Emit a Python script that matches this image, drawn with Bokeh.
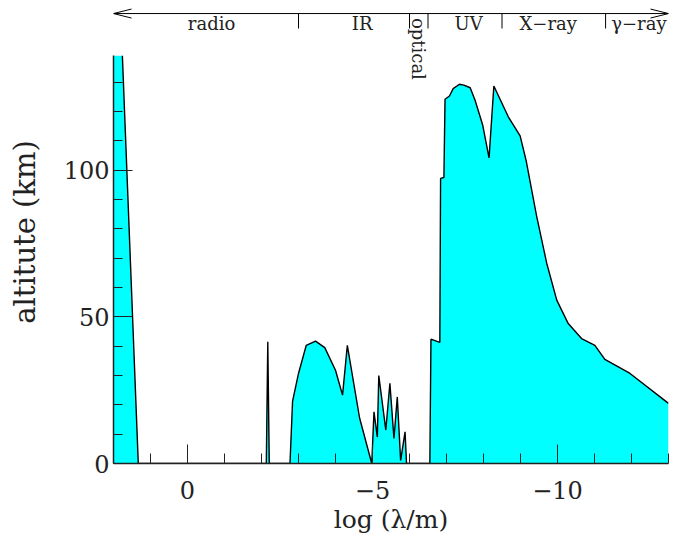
import math
from bokeh.plotting import figure
from bokeh.models import Range1d, FixedTicker
from bokeh.core.properties import value
from bokeh.embed import file_html
from bokeh.resources import INLINE

# ---- data ----
log_wavelength = [2.0, 1.76, 1.33, -2.13, -2.17, -2.21, -2.77, -2.84, -3.0, -3.21,
                  -3.46, -3.71, -4.0, -4.19, -4.32, -4.65, -4.98, -5.04, -5.13, -5.17,
                  -5.36, -5.47, -5.58, -5.67, -5.76, -5.88, -5.92, -6.55, -6.58, -6.82,
                  -6.84, -6.93, -6.96, -7.08, -7.18, -7.35, -7.47, -7.64, -7.77, -7.98,
                  -8.15, -8.28, -8.67, -8.99, -9.15, -9.44, -9.71, -9.98, -10.29, -10.65,
                  -11.01, -11.28, -11.96, -13.0]
altitude_km = [139, 139, 0, 0, 41.5, 0, 0, 21.3, 30.7, 40.3,
               41.7, 39.5, 31.8, 23.3, 40.3, 15.6, 0, 17.6, 9.0, 30.0,
               11.4, 27.3, 8.5, 22.7, 1.0, 10.8, 0, 0, 42.4, 41.3,
               97.2, 97.5, 124.2, 125.3, 127.8, 129.3, 129.0, 128.1, 123.9, 115.3,
               104.2, 128.7, 118.2, 111.7, 103.4, 84.1, 68.2, 55.7, 47.7, 42.6,
               40.3, 35.5, 30.7, 20.5]

band_names = ["radio", "IR", "optical", "UV", "X\u2212ray", "\u03b3\u2212ray"]
band_edges = [-3.0, -6.0, -6.5, -8.5, -11.3]
band_centers = [-0.65, -4.72, -6.25, -7.6, -9.75, -12.2]

x_major = [0, -5, -10]
x_labels = ["0", "\u22125", "\u221210"]
y_major = [0, 50, 100]

X_LO, X_HI = 2.0, -13.0
Y_DATA_TOP = 139.0
Y_VIEW_TOP = 157.85

FONT = "DejaVu Serif"

p = figure(width=673, height=539,
           x_range=Range1d(X_LO, X_HI), y_range=Range1d(0, Y_VIEW_TOP),
           output_backend="svg", toolbar_location=None,
           min_border_left=113, min_border_right=5,
           min_border_top=0, min_border_bottom=76)
p.outline_line_color = None
p.grid.visible = False

# filled region + outline
p.varea(x=log_wavelength, y1=[0] * len(altitude_km), y2=altitude_km,
        fill_color="#00ffff")
p.line(x=log_wavelength[1:], y=altitude_km[1:], line_color="black", line_width=1.4)

# ---- top band annotation ----
arrow_y = 153.4
tick_y = 148.3
label_y = 150.0
px_x = (X_LO - X_HI) / 555.0   # data units per pixel (x)
px_y = Y_VIEW_TOP / 463.0      # data units per pixel (y)
head_l = 18 * px_x
head_w = 4.5 * px_y

p.line(x=[X_LO, X_HI], y=[arrow_y, arrow_y], line_color="black", line_width=1)
p.multi_line(xs=[[X_LO - head_l, X_LO, X_LO - head_l],
                 [X_HI + head_l, X_HI, X_HI + head_l]],
             ys=[[arrow_y + head_w, arrow_y, arrow_y - head_w]] * 2,
             line_color="black", line_width=1)
p.segment(x0=band_edges, y0=[tick_y] * len(band_edges),
          x1=band_edges, y1=[arrow_y] * len(band_edges),
          line_color="black", line_width=1)

horiz = [i for i, n in enumerate(band_names) if n != "optical"]
p.text(x=[band_centers[i] for i in horiz], y=[label_y] * len(horiz),
       text=[band_names[i] for i in horiz],
       text_font=value(FONT), text_font_size="18px", text_color="#222222",
       text_align="center", text_baseline="middle")
opt = band_names.index("optical")
p.text(x=[band_centers[opt]], y=[151.9], text=["optical"],
       angle=-math.pi / 2,
       text_font=value(FONT), text_font_size="18px", text_color="#222222",
       text_align="left", text_baseline="middle")

# ---- axes ----
p.xaxis.ticker = FixedTicker(ticks=x_major, minor_ticks=list(range(-13, 3)))
p.xaxis.major_label_overrides = dict(zip(x_major, x_labels))
p.yaxis.ticker = FixedTicker(ticks=y_major, minor_ticks=list(range(0, 140, 10)))
p.yaxis.bounds = (0, Y_DATA_TOP)

for ax in (p.xaxis[0], p.yaxis[0]):
    ax.major_tick_in = 19
    ax.major_tick_out = 0
    ax.minor_tick_in = 10
    ax.minor_tick_out = 0
    ax.axis_line_width = 1.5
    ax.axis_line_color = "#222222"
    ax.major_tick_line_color = "#222222"
    ax.minor_tick_line_color = "#222222"
    ax.major_label_text_font = FONT
    ax.major_label_text_font_size = "24px"
    ax.major_label_text_color = "#222222"
    ax.axis_label_text_font = FONT
    ax.axis_label_text_font_size = "25px"
    ax.axis_label_text_font_style = "normal"
    ax.axis_label_text_color = "#222222"

p.yaxis.minor_tick_in = 9
p.yaxis.axis_label_text_font_size = "29px"
p.xaxis.axis_label = "log (\u03bb/m)"
p.yaxis.axis_label = "altitute (km)"
p.xaxis.major_label_standoff = 17
p.xaxis.axis_label_standoff = 3
p.yaxis.major_label_standoff = 4
p.yaxis.axis_label_standoff = 19

open("out.html", "w").write(file_html(p, INLINE))
